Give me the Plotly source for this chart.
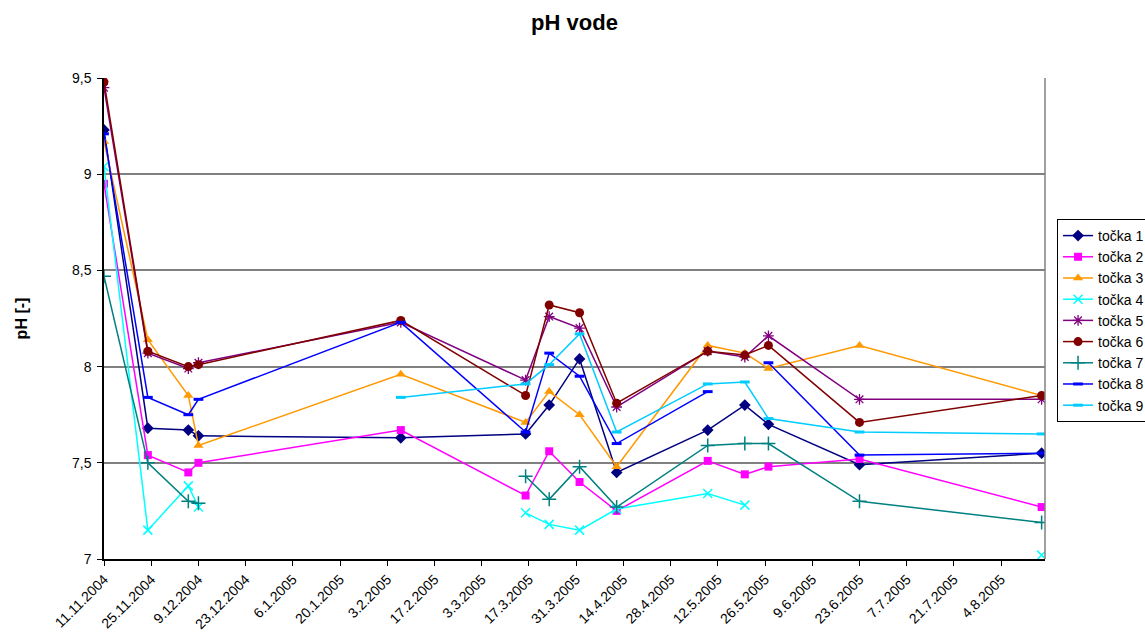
import datetime as dt
import plotly.graph_objects as go

# Sampling dates
dates = ["2004-11-11", "2004-11-24", "2004-12-06", "2004-12-09", "2005-02-07",
         "2005-03-16", "2005-03-23", "2005-04-01", "2005-04-12", "2005-05-09",
         "2005-05-20", "2005-05-27", "2005-06-23", "2005-08-16"]

# pH measured at each sampling point (None = no measurement)
tocka1 = [9.23, 7.68, 7.67, 7.64, 7.63, 7.65, 7.80, 8.04, 7.45, 7.67, 7.80, 7.70, 7.49, 7.55]
tocka2 = [8.95, 7.54, 7.45, 7.50, 7.67, 7.33, 7.56, 7.40, 7.25, 7.51, 7.44, 7.48, 7.52, 7.27]
tocka3 = [9.17, 8.14, 7.85, 7.59, 7.96, 7.71, 7.87, 7.75, 7.48, 8.11, 8.07, 7.99, 8.11, 7.85]
tocka4 = [9.04, 7.15, 7.38, 7.27, None, 7.24, 7.18, 7.15, 7.26, 7.34, 7.28, None, None, 7.02]
tocka5 = [9.45, 8.07, 7.99, 8.02, 8.23, 7.93, 8.26, 8.20, 7.79, 8.08, 8.05, 8.16, 7.83, 7.83]
tocka6 = [9.48, 8.08, 8.00, 8.01, 8.24, 7.85, 8.32, 8.28, 7.81, 8.08, 8.06, 8.11, 7.71, 7.85]
tocka7 = [8.47, 7.50, 7.30, 7.29, None, 7.43, 7.31, 7.48, 7.27, 7.59, 7.60, 7.60, 7.30, 7.19]
tocka8 = [9.21, 7.84, 7.75, 7.83, 8.23, 7.66, 8.07, 7.95, 7.60, 7.87, None, 8.02, 7.54, 7.55]
tocka9 = [None, None, None, None, 7.84, 7.91, 8.01, 8.17, 7.66, 7.91, 7.92, 7.73, 7.66, 7.65]

names = ["točka 1", "točka 2", "točka 3", "točka 4", "točka 5",
         "točka 6", "točka 7", "točka 8", "točka 9"]
series = [tocka1, tocka2, tocka3, tocka4, tocka5, tocka6, tocka7, tocka8, tocka9]

# y-axis ticks (decimal comma)
y_tickvals = [7, 7.5, 8, 8.5, 9, 9.5]
y_ticktext = ["7", "7,5", "8", "8,5", "9", "9,5"]

# x-axis ticks every 14 days
start = dt.date(2004, 11, 11)
x_tickvals = [start + dt.timedelta(days=14 * i) for i in range(20)]
x_ticktext = [f"{d.day}.{d.month}.{d.year}" for d in x_tickvals]

styles = [
    dict(color="#000080", symbol="diamond", size=9, lw=0),
    dict(color="#FF00FF", symbol="square", size=8, lw=0),
    dict(color="#FF9900", symbol="triangle-up", size=9, lw=0),
    dict(color="#00FFFF", symbol="x-thin-open", size=9, lw=1.5),
    dict(color="#800080", symbol="asterisk-open", size=9, lw=1.3),
    dict(color="#800000", symbol="circle", size=9, lw=0),
    dict(color="#008080", symbol="cross-thin-open", size=10, lw=1.5),
    dict(color="#0000FF", symbol="line-ew-open", size=7, lw=3),
    dict(color="#00CCFF", symbol="line-ew-open", size=7, lw=3),
]

fig = go.Figure()
for name, vals, st in zip(names, series, styles):
    fig.add_trace(go.Scatter(
        x=dates, y=vals, name=name, mode="lines+markers",
        connectgaps=False,
        line=dict(color=st["color"], width=1.5),
        marker=dict(symbol=st["symbol"], size=st["size"], color=st["color"],
                    line=dict(color=st["color"], width=st["lw"])),
    ))

font_family = "Liberation Sans, Arial, sans-serif"

fig.update_layout(
    width=1145, height=632,
    paper_bgcolor="white", plot_bgcolor="white",
    margin=dict(l=104, r=100, t=78, b=73, autoexpand=False),
    font=dict(family=font_family, size=14, color="black"),
    title=dict(text="<b>pH vode</b>", x=0.5, xref="paper", y=0.965,
               yanchor="middle", font=dict(size=22, family=font_family)),
    legend=dict(x=1.0128, xanchor="left", y=0.7069, yanchor="top",
                bordercolor="black", borderwidth=1, bgcolor="white",
                font=dict(size=14), itemwidth=30, tracegroupgap=0),
    xaxis=dict(
        type="date", range=["2004-11-11", "2005-08-17"],
        tickmode="array", tickvals=x_tickvals, ticktext=x_ticktext,
        tickangle=-45, ticks="outside", ticklen=5, tickcolor="black",
        tickfont=dict(size=14),
        showline=True, linecolor="black", linewidth=1.5,
        showgrid=False, zeroline=False, automargin=False,
    ),
    yaxis=dict(
        range=[7, 9.5], tickmode="array", tickvals=y_tickvals, ticktext=y_ticktext,
        ticks="outside", ticklen=5, tickcolor="black",
        tickfont=dict(size=14), ticklabelstandoff=3,
        showline=True, linecolor="black", linewidth=1.5,
        showgrid=True, gridcolor="#808080", gridwidth=1.5, zeroline=False,
        title=dict(text="<b>pH [-]</b>", font=dict(size=16), standoff=40),
        automargin=False,
    ),
)

# right border of the plot area
fig.add_shape(type="line", xref="paper", yref="paper", x0=1, x1=1, y0=0, y1=1,
              line=dict(color="#808080", width=1.5))

fig.write_html("out.html")
